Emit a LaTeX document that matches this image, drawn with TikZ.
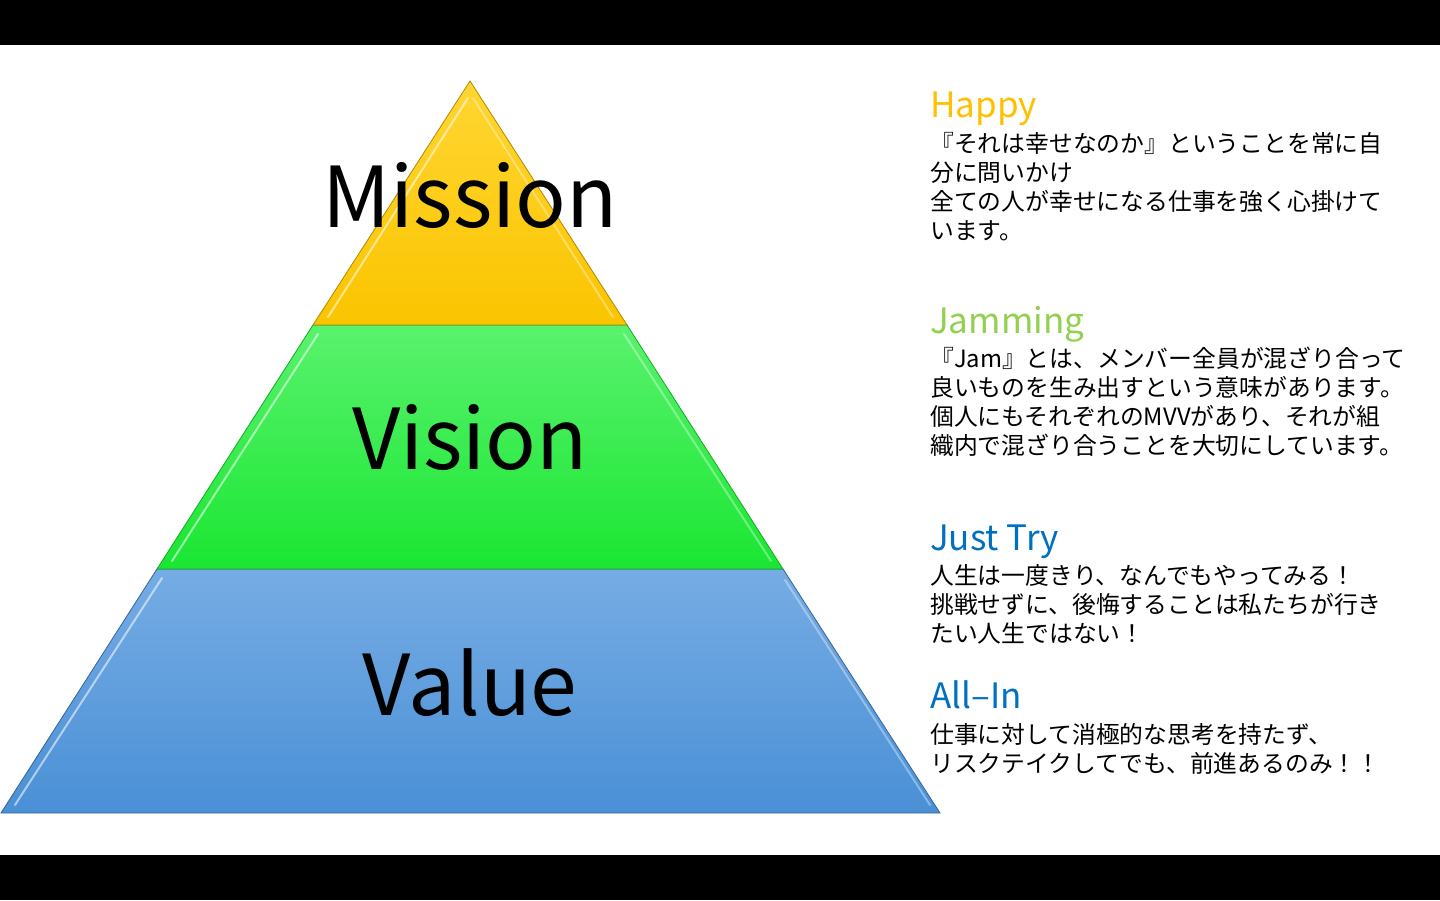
\documentclass[tikz,border=0pt]{standalone}
\usepackage{fontspec}
\setmainfont{Noto Sans CJK JP}
\usetikzlibrary{positioning, calc}
\definecolor{happyc}{RGB}{255,192,0}
\definecolor{jamc}{RGB}{146,208,80}
\definecolor{tryc}{RGB}{0,112,192}
\definecolor{goldtop}{RGB}{255,214,50}
\definecolor{goldbot}{RGB}{250,196,0}
\definecolor{greentop}{RGB}{90,242,110}
\definecolor{greenbot}{RGB}{26,230,50}
\definecolor{bluetop}{RGB}{118,172,228}
\definecolor{bluebot}{RGB}{74,144,214}

\begin{document}
\begin{tikzpicture}[x=1pt, y=1pt,
    head/.style={anchor=base west, inner sep=0pt, font=\fontsize{35}{35}\selectfont},
    body/.style={anchor=base west, inner sep=0pt, align=left, font=\fontsize{23.8}{29}\selectfont},
    layername/.style={anchor=base, inner sep=0pt, font=\fontsize{84}{84}\selectfont},
    shine/.style={white, opacity=0.55, line width=2pt, line cap=round}]
        \useasboundingbox (0,0) rectangle (1440,900);
        \fill[white] (0,0) rectangle (1440,900);
        \fill[black] (0,855) rectangle (1440,900);
        \fill[black] (0,0) rectangle (1440,45);

         %pyramid layers
        \shade[top color=bluetop, bottom color=bluebot] (1,87) -- (940,87) -- (783,331) -- (157,331) -- cycle;
        \draw[bluebot!70!black, line width=0.8pt] (1,87) -- (940,87) -- (783,331) -- (157,331) -- cycle;
        \draw[shine] (15,95) -- (162,322);
        \draw[shine, opacity=0.35] (930,95) -- (785,320);

        \shade[top color=greentop, bottom color=greenbot] (157,331) -- (783,331) -- (627,575) -- (313,575) -- cycle;
        \draw[greenbot!75!black, line width=0.8pt] (157,331) -- (783,331) -- (627,575) -- (313,575) -- cycle;
        \draw[shine] (172,339) -- (318,566);
        \draw[shine, opacity=0.35] (771,339) -- (624,566);

        \shade[top color=goldtop, bottom color=goldbot] (313,575) -- (627,575) -- (470,819) -- cycle;
        \draw[goldbot!70!black, line width=0.8pt] (313,575) -- (627,575) -- (470,819) -- cycle;
        \draw[shine] (328,583) -- (468,802);
        \draw[shine, opacity=0.35] (613,583) -- (473,802);

        \node[layername] (mission) at (470,672) {Mission};
        \node[layername] (vision) at (470,430) {Vision};
        \node[layername] (value) at (470,185) {Value};

         %headings
        \node[head, text=happyc] (happy) at (930,782) {Happy};
        \node[head, text=jamc] (jamming) at (930,566) {Jamming};
        \node[head, text=tryc] (justtry) at (930,349) {Just Try};
        \node[head, text=tryc] (allin) at (930,191) {All--In};

         %descriptions (base = last line)
        \node[body] (happytxt) at ([yshift=-122pt]happy.base west) {『それは幸せなのか』ということを常に自\\分に問いかけ\\全ての人が幸せになる仕事を強く心掛けて\\います。};
        \node[body] (jamtxt) at ([yshift=-121pt]jamming.base west) {『Jam』とは、メンバー全員が混ざり合って\\良いものを生み出すという意味があります。\\個人にもそれぞれのMVVがあり、それが組\\織内で混ざり合うことを大切にしています。};
        \node[body] (trytxt) at ([yshift=-92pt]justtry.base west) {人生は一度きり、なんでもやってみる！\\挑戦せずに、後悔することは私たちが行き\\たい人生ではない！};
        \node[body] (allintxt) at ([yshift=-63pt]allin.base west) {仕事に対して消極的な思考を持たず、\\リスクテイクしてでも、前進あるのみ！！};
    \end{tikzpicture}
\end{document}
